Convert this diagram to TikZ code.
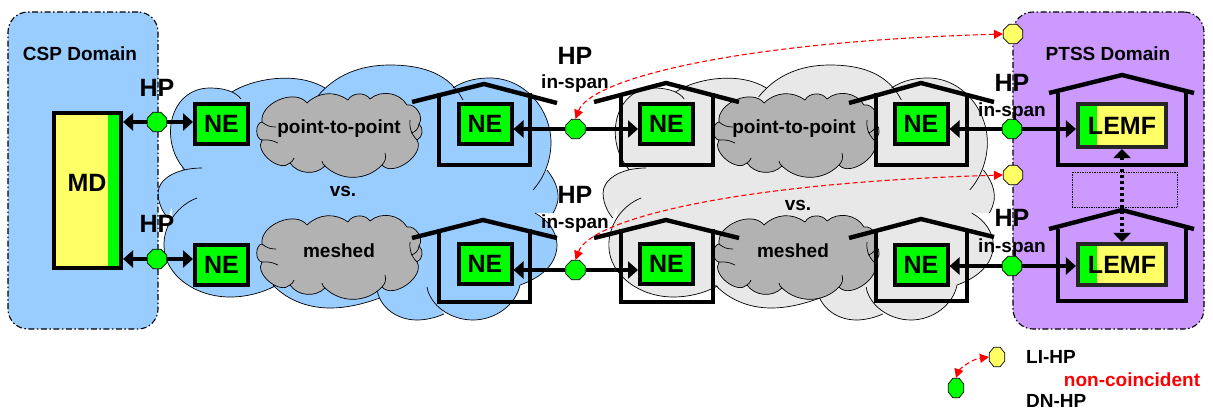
\documentclass[tikz,border=0pt]{standalone}
\usepackage{fontspec}
\setmainfont{Liberation Sans}
\usetikzlibrary{positioning, arrows.meta, shapes.geometric}

\definecolor{cspblue}{HTML}{99CCFF}
\definecolor{ptsspurple}{HTML}{CC99FF}
\definecolor{cloudgrey}{HTML}{E8E8E8}
\definecolor{midgrey}{HTML}{B2B2B2}
\definecolor{dngreen}{HTML}{00FF00}
\definecolor{lilyellow}{HTML}{FFFF66}

\tikzset{
  domainbox/.style={rectangle, rounded corners=20pt, draw=black, line width=1.1pt, dash pattern=on 6pt off 2.5pt on 1.5pt off 2.5pt},
  bigtext/.style={font=\fontsize{25}{28}\selectfont\bfseries, inner sep=0pt},
  smalltext/.style={font=\fontsize{19}{22}\selectfont\bfseries, inner sep=0pt},
  nebox/.style={rectangle, draw, line width=4pt, fill=dngreen, minimum width=53pt, minimum height=40pt, inner sep=0pt},
  lemfbox/.style={rectangle, draw=black!85, line width=3.6pt, fill=lilyellow, minimum width=88.5pt, inner sep=0pt,
    path picture={\fill[dngreen] (path picture bounding box.north west) rectangle ([xshift=19pt]path picture bounding box.south west);}},
  dnhp/.style={regular polygon, regular polygon sides=8, draw, line width=.7pt, fill=dngreen, minimum size=21pt, inner sep=0pt},
  lihp/.style={dnhp, fill=lilyellow},
  house/.style={line width=4.4pt, line join=miter},
  cloudline/.style={draw=black, line width=.7pt},
  link/.style={line width=3.2pt, -{Triangle[length=10pt,width=17pt]}},
  redlink/.style={red, line width=1.1pt, dash pattern=on 5pt off 3pt, {Triangle[length=9pt,width=9pt]}-{Triangle[length=9pt,width=9pt]}}
}

% big cloud, #1 joins the arcs
\newcommand{\bigarcs}[1]{
  (185,170) .. controls (158,140) and (170,88) .. (210,88) .. controls (225,88) and (236,92) .. (241,99) #1
  (232,92) .. controls (250,80) and (295,70) .. (325,88) #1
  (317,97) .. controls (335,75) and (360,65) .. (390,65) .. controls (425,65) and (450,75) .. (463,100) #1
  (453,88) .. controls (465,80) and (478,78) .. (490,78) .. controls (525,78) and (552,110) .. (551,145) .. controls (550,165) and (542,180) .. (533,190) #1
  (547,170) .. controls (555,180) and (559,190) .. (558,200) .. controls (557,205) and (555,210) .. (553,213) #1
  (535,213) .. controls (548,220) and (557,232) .. (557,245) .. controls (557,265) and (540,278) .. (520,285) #1
  (520,285) .. controls (516,305) and (495,320) .. (473,320) .. controls (450,320) and (430,305) .. (427,287) #1
  (444,314) .. controls (435,318) and (425,320) .. (417,320) .. controls (395,320) and (378,305) .. (377,288) #1
  (380,298) .. controls (360,305) and (345,308) .. (330,308) .. controls (305,308) and (285,298) .. (273,285) #1
  (275,286) .. controls (262,293) and (246,297) .. (230,297) .. controls (195,297) and (165,275) .. (164,247) .. controls (163,225) and (178,205) .. (197,198) #1
  (202,168) .. controls (175,168) and (158,180) .. (158,193) .. controls (158,205) and (165,215) .. (168,218)
}

% grey cloud behind the labels
\newcommand{\midcloud}[2]{
  \begin{scope}[shift={(#1,#2)}]
    \filldraw[cloudline, fill=midgrey] (262,122) to[bend left=75] (307,103) to[bend left=40] (348,100)
      to[bend left=60] (370,99) to[bend left=50] (407,105) to[bend left=70] (419,124)
      to[bend left=60] (417,140) to[bend left=85] (382,165) to[bend left=45] (325,166)
      to[bend left=50] (290,163) to[bend left=85] (262,140) to[bend left=85] cycle;
    \draw[cloudline] (419,124) to[bend left=35] (411,133);
    \draw[cloudline] (417,140) to[bend left=25] (410,120);
    \draw[cloudline] (382,165) to[bend right=30] (385,153);
    \draw[cloudline] (290,163) to[bend right=20] (294,158);
    \draw[cloudline] (262,140) to[bend left=15] (278,143);
    \draw[cloudline] (262,122) to[bend right=20] (276,127);
    \draw[cloudline] (325,166) to[bend left=20] (322,161);
  \end{scope}
}

\begin{document}
\begin{tikzpicture}[x=1pt,y=-1pt]
\useasboundingbox (0,0) rectangle (1213,410);

%Clouds
\fill[cspblue] \bigarcs{--} -- cycle;
\fill[cspblue] (190,120) rectangle (510,285) (182,160) rectangle (250,250) (172,176) rectangle (250,250);
\draw[cloudline] \bigarcs{};
\begin{scope}[shift={(448.5,0)},xscale=.978]
\fill[cloudgrey] \bigarcs{--} -- cycle;
\fill[cloudgrey] (190,120) rectangle (510,285) (182,160) rectangle (250,250) (172,176) rectangle (250,250);
\draw[cloudline] \bigarcs{};
\end{scope}

\midcloud{0}{0}
\midcloud{0}{122}
\midcloud{457}{0}
\midcloud{457}{122}

%Domains
\node (csp) at (83,170.5) [domainbox, fill=cspblue, minimum width=150pt, minimum height=317pt] {};
\node (ptss) at (1108.5,170.5) [domainbox, fill=ptsspurple, minimum width=191pt, minimum height=317pt] {};
\node (csplabel) at (80,54) [smalltext] {CSP Domain};
\node (ptsslabel) at (1108,54) [smalltext] {PTSS Domain};

%Houses
\draw[house] (412,102) -- (484,84) -- (557,103);
\draw[house] (439,93) -- (439,165) -- (530,165) -- (530,93);
\draw[house] (412,238) -- (483,220) -- (557,238);
\draw[house] (439,229) -- (439,302) -- (530,302) -- (530,229);
\draw[house] (594,102) -- (666,83) -- (739,102);
\draw[house] (621,93) -- (621,165) -- (713,165) -- (713,93);
\draw[house] (594,238) -- (666,220) -- (739,238);
\draw[house] (621,229) -- (621,302) -- (713,302) -- (713,229);
\draw[house] (849,103) -- (921,83) -- (994,102);
\draw[house] (876,93) -- (876,165) -- (967,165) -- (967,93);
\draw[house] (849,238) -- (921,219) -- (994,237);
\draw[house] (876,229) -- (876,301) -- (967,301) -- (967,229);
\draw[house] (1049,93) -- (1122,75) -- (1194,93);
\draw[house] (1058,93) -- (1058,165) -- (1186,165) -- (1186,93);
\draw[house] (1049,229) -- (1122,210) -- (1194,229);
\draw[house] (1058,229) -- (1058,301) -- (1186,301) -- (1186,229);

%Boxes
\node (md) at (87.5,190.5) [rectangle, draw, line width=3.6pt, fill=lilyellow, minimum width=67.5pt, minimum height=155.5pt,
  path picture={\fill[dngreen] ([xshift=-13pt]path picture bounding box.north east) rectangle (path picture bounding box.south east);}] {};
\node (mdlabel) at (87,183) [bigtext] {MD};

\node (ne1) at (221.5,124) [nebox, bigtext] {NE};
\node (ne2) at (221.5,264.5) [nebox, bigtext] {NE};
\node (ne3) at (485,124) [nebox, bigtext] {NE};
\node (ne4) at (485,264) [nebox, bigtext] {NE};
\node (ne5) at (666.5,124) [nebox, bigtext] {NE};
\node (ne6) at (666.5,264) [nebox, bigtext] {NE};
\node (ne7) at (921,124) [nebox, bigtext] {NE};
\node (ne8) at (921,264.5) [nebox, bigtext] {NE};
\node (lemf1) at (1122,125.5) [lemfbox, bigtext, minimum height=43.5pt] {LEMF};
\node (lemf2) at (1122,264.5) [lemfbox, bigtext, minimum height=41.5pt] {LEMF};

\node (gap) at (1124.5,189.5) [rectangle, draw, line width=.7pt, densely dotted, minimum width=105pt, minimum height=35pt] {};
\draw[line width=3.2pt, dash pattern=on 3pt off 3pt, {Triangle[length=9pt,width=17pt]}-{Triangle[length=9pt,width=17pt]}] (lemf1) -- (lemf2);

%Handover points
\node (hp1) at (157,122) [dnhp] {};
\node (hp2) at (157,259) [dnhp] {};
\node (hp3) at (575.5,129) [dnhp] {};
\node (hp4) at (575.5,270) [dnhp] {};
\node (hp5) at (1012,129) [dnhp] {};
\node (hp6) at (1012,266) [dnhp] {};
\node (li1) at (1013,34) [lihp] {};
\node (li2) at (1013,175) [lihp] {};
\node (keyli) at (997,357) [lihp, xscale=.8] {};
\node (keydn) at (956,388) [dnhp, xscale=.8] {};

\draw[link] (hp1) -- (hp1 -| md.east);
\draw[link] (hp1) -- (hp1 -| ne1.west);
\draw[link] (hp2) -- (hp2 -| md.east);
\draw[link] (hp2) -- (hp2 -| ne2.west);
\draw[link] (hp3) -- (hp3 -| ne3.east);
\draw[link] (hp3) -- (hp3 -| ne5.west);
\draw[link] (hp4) -- (hp4 -| ne4.east);
\draw[link] (hp4) -- (hp4 -| ne6.west);
\draw[link] (hp5) -- (hp5 -| ne7.east);
\draw[link] (hp5) -- (hp5 -| lemf1.west);
\draw[link] (hp6) -- (hp6 -| ne8.east);
\draw[link] (hp6) -- (hp6 -| lemf2.west);

\draw[redlink] (hp3.north) .. controls (590,80) and (730,42) .. (li1.west);
\draw[redlink] (hp4.north) .. controls (590,220) and (730,183) .. (li2.west);
\draw[redlink] (keydn.north) .. controls (958,372) and (968,360) .. (keyli.west);

%Labels
\node (hplabel1) at (157,88) [bigtext] {HP};
\node (hplabel2) at (157,224) [bigtext] {HP};
\node (hplabel3) at (575,56) [bigtext] {HP};
\node (span3) at (575,84) [smalltext] {in-span};
\node (hplabel4) at (575,195) [bigtext] {HP};
\node (span4) at (575,224) [smalltext] {in-span};
\node (hplabel5) at (1012,83) [bigtext] {HP};
\node (span5) at (1012,112) [smalltext] {in-span};
\node (hplabel6) at (1012,218) [bigtext] {HP};
\node (span6) at (1012,248) [smalltext] {in-span};

\node (p2p1) at (339,129) [smalltext] {point-to-point};
\node (p2p2) at (794,129) [smalltext] {point-to-point};
\node (mesh1) at (339,251) [smalltext] {meshed};
\node (mesh2) at (793,251) [smalltext] {meshed};
\node (vs1) at (343,191) [smalltext] {vs.};
\node (vs2) at (798,205) [smalltext] {vs.};

\node (keylitext) at (1026,357) [smalltext, anchor=west] {LI-HP};
\node (keynon) at (1132,380) [smalltext, text=red] {non-coincident};
\node (keydntext) at (1026,401) [smalltext, anchor=west] {DN-HP};

\end{tikzpicture}
\end{document}
